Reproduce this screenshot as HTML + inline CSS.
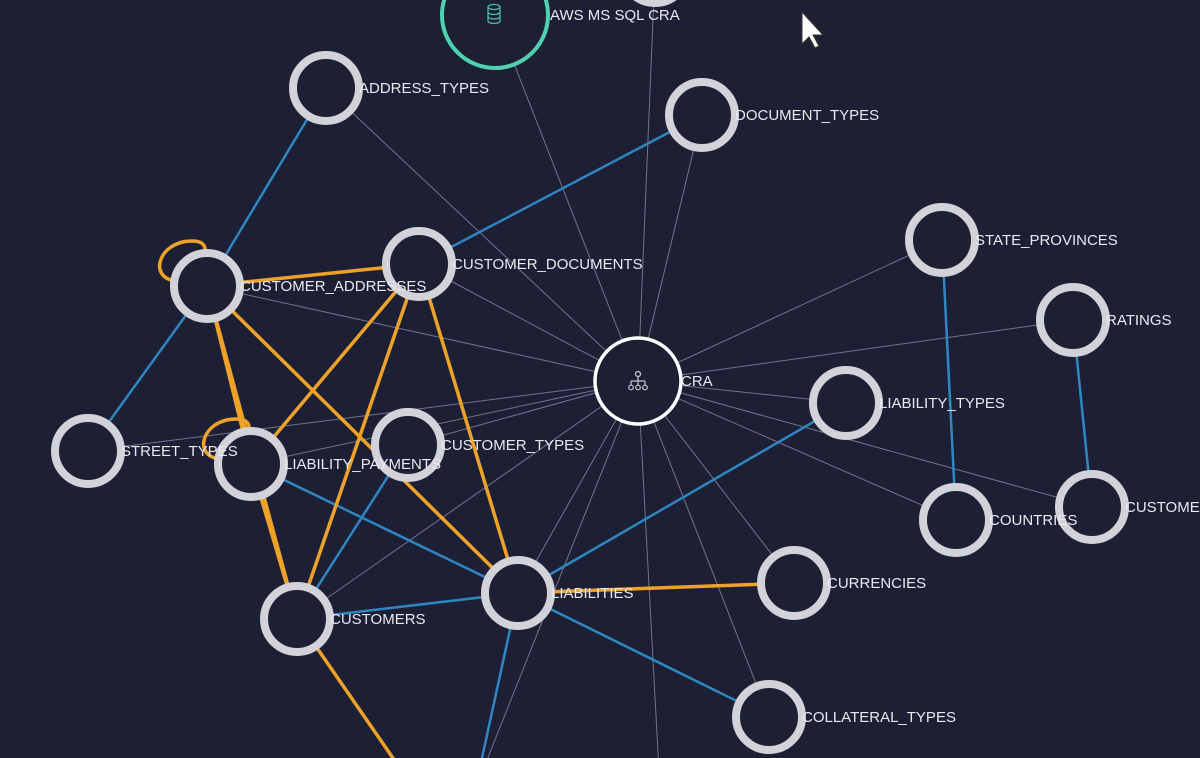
<!DOCTYPE html>
<html><head><meta charset="utf-8"><style>
html,body{margin:0;padding:0;background:#1d2035;}
svg{display:block;}
text{font-family:"Liberation Sans",sans-serif;font-size:15px;fill:#e8e8ee;}
</style></head><body>
<svg id="g" width="1200" height="758" viewBox="0 0 1200 758">
<rect width="1200" height="758" fill="#1d2035"/>
<g id="edges"></g><g id="nodes"></g><g id="labels"></g>
<path d="M802,12 L802,44 L809,37 L815,48 L819,46 L813,35 L823,35 Z" fill="#fff" stroke="#333" stroke-width="1"/>
</svg>
<script>
const nodeNames=["AWS MS SQL CRA","TOP","ADDRESS_TYPES","DOCUMENT_TYPES","STATE_PROVINCES","RATINGS","CUSTOMER_DOCUMENTS","CUSTOMER_ADDRESSES","CRA","LIABILITY_TYPES","STREET_TYPES","LIABILITY_PAYMENTS","CUSTOMER_TYPES","COUNTRIES","CUSTOMERS_R","CURRENCIES","LIABILITIES","CUSTOMERS","COLLATERAL_TYPES","OFF1","OFF2","OFF3"];
const nodeLabels=["AWS MS SQL CRA","","ADDRESS_TYPES","DOCUMENT_TYPES","STATE_PROVINCES","RATINGS","CUSTOMER_DOCUMENTS","CUSTOMER_ADDRESSES","CRA","LIABILITY_TYPES","STREET_TYPES","LIABILITY_PAYMENTS","CUSTOMER_TYPES","COUNTRIES","CUSTOMERS","CURRENCIES","LIABILITIES","CUSTOMERS","COLLATERAL_TYPES","","",""];
const nodeX=[495,655,326,702,942,1073,419,207,638,846,88,251,408,956,1092,794,518,297,769,660,475,415];
const nodeY=[15,-30,88,115,240,320,264,286,381,403,451,464,445,520,507,583,593,619,717,790,790,790];
const grayEdges=[[8,0],[8,1],[8,2],[8,3],[8,4],[8,5],[8,6],[8,7],[8,9],[8,10],[8,11],[8,12],[8,13],[8,14],[8,15],[8,16],[8,17],[8,18],[8,19],[8,20]];
const blueEdges=[[2,7],[3,6],[7,10],[4,13],[5,14],[9,16],[11,16],[12,17],[17,16],[16,18],[16,20]];
const orangeEdges=[[7,6],[7,11],[7,16],[7,17],[6,11],[6,17],[6,16],[16,15],[17,21],[11,17]];
const selfLoops=[7,11];
const NS="http://www.w3.org/2000/svg";
const E=document.getElementById('edges'),N=document.getElementById('nodes'),L=document.getElementById('labels');
function line(a,b,col,w,name){const l=document.createElementNS(NS,'line');
l.setAttribute('x1',nodeX[a]);l.setAttribute('y1',nodeY[a]);l.setAttribute('x2',nodeX[b]);l.setAttribute('y2',nodeY[b]);
l.setAttribute('stroke',col);l.setAttribute('stroke-width',w);


E.appendChild(l);}
grayEdges.forEach(e=>line(e[0],e[1],'#70748c',1,'edge-'+nodeNames[e[0]].toLowerCase()+'-'+nodeNames[e[1]].toLowerCase()));
blueEdges.forEach(e=>line(e[0],e[1],'#2f86c0',2.5,'edge-'+nodeNames[e[0]].toLowerCase()+'-'+nodeNames[e[1]].toLowerCase()));
orangeEdges.forEach(e=>line(e[0],e[1],'#eea228',3.5,'edge-'+nodeNames[e[0]].toLowerCase()+'-'+nodeNames[e[1]].toLowerCase()));
selfLoops.forEach(i=>{const p=document.createElementNS(NS,'path');const x=nodeX[i],y=nodeY[i];
p.setAttribute('d',`M${x-28},${y-5} C${x-60},${y-5} ${x-50},${y-45} ${x-15},${y-45} C${x},${y-45} ${x},${y-35} ${x-5},${y-30}`);
p.setAttribute('fill','none');p.setAttribute('stroke','#eea228');p.setAttribute('stroke-width','3.5');


E.appendChild(p);});
nodeNames.forEach((n,i)=>{if(n.startsWith('OFF'))return;
const g=document.createElementNS(NS,'g');


const c=document.createElementNS(NS,'circle');c.setAttribute('cx',nodeX[i]);c.setAttribute('cy',nodeY[i]);
if(i===0){c.setAttribute('r',53);c.setAttribute('stroke','#4fd1b0');c.setAttribute('stroke-width',4);}
else if(i===8){c.setAttribute('r',43);c.setAttribute('stroke','#ffffff');c.setAttribute('stroke-width',3.5);}
else{c.setAttribute('r',33);c.setAttribute('stroke','#d2d2d8');c.setAttribute('stroke-width',8);}
c.setAttribute('fill','#1d2035');g.appendChild(c);
N.appendChild(g);
if(nodeLabels[i]){const t=document.createElementNS(NS,'text');
const off=i===0?55:(i===8?43:33);
t.setAttribute('x',nodeX[i]+off);t.setAttribute('y',nodeY[i]+5);t.textContent=nodeLabels[i];


L.appendChild(t);}
});
const ic=document.createElementNS(NS,'g');


ic.innerHTML='<g stroke="#ccc" fill="none" stroke-width="1.2"><circle cx="638" cy="374" r="2.5"/><line x1="638" y1="377" x2="638" y2="381"/><line x1="631" y1="381" x2="645" y2="381"/><line x1="631" y1="381" x2="631" y2="385"/><line x1="638" y1="381" x2="638" y2="385"/><line x1="645" y1="381" x2="645" y2="385"/><circle cx="631" cy="387.5" r="2.3"/><circle cx="638" cy="387.5" r="2.3"/><circle cx="645" cy="387.5" r="2.3"/></g>';
N.appendChild(ic);
const db=document.createElementNS(NS,'g');


db.innerHTML='<g stroke="#4fb8a0" fill="none" stroke-width="1.3"><ellipse cx="494" cy="7" rx="6" ry="2.5"/><path d="M488,7 V21 A6,2.5 0 0 0 500,21 V7"/><path d="M488,12 A6,2.5 0 0 0 500,12 M488,16.5 A6,2.5 0 0 0 500,16.5"/></g>';
N.appendChild(db);
</script>
</body></html>
